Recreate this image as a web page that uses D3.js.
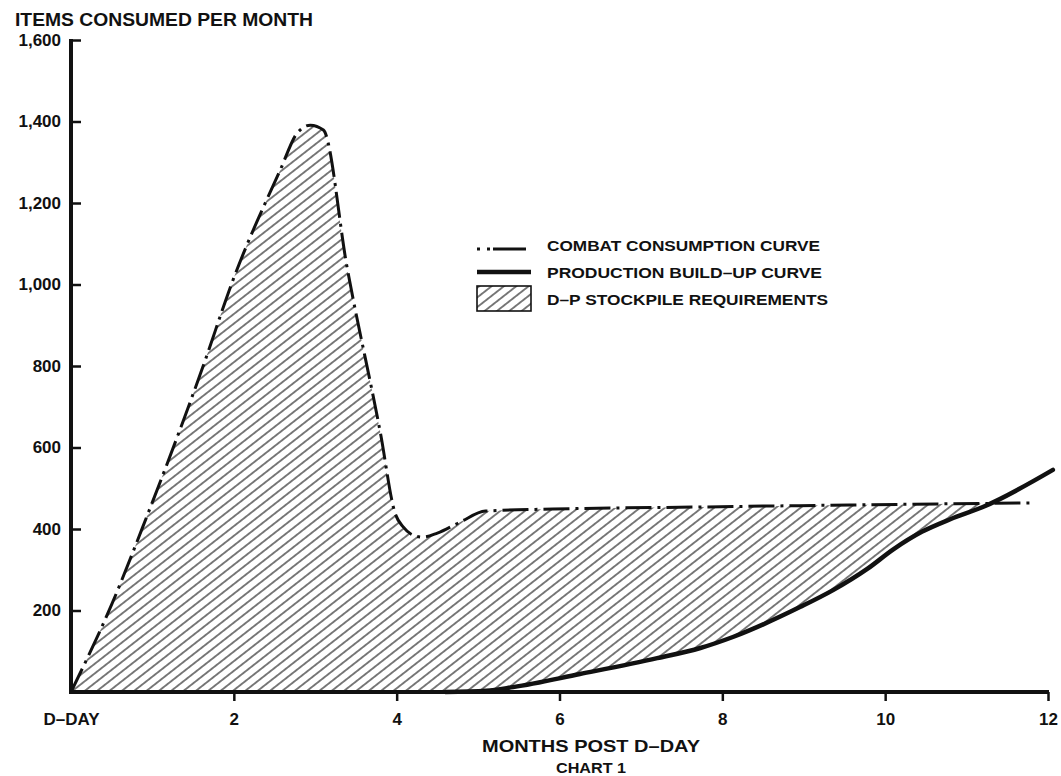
<!DOCTYPE html>
<html>
<head>
<meta charset="utf-8">
<script src="https://cdn.jsdelivr.net/npm/d3@7"></script>
<style>
  html, body { margin: 0; padding: 0; background: #fff; }
  svg { display: block; }
  text { font-family: "Liberation Sans", Arial, Helvetica, sans-serif; font-weight: bold; fill: #111; }
</style>
</head>
<body>
<svg id="chart" width="1061" height="776"></svg>
<script>
// ---- data ----
const combatMonths = [0, 0.5, 0.93, 1.62, 1.99, 2.57, 2.78, 2.94, 3.10, 3.39, 3.80, 3.98, 4.08, 4.20, 4.32, 4.50, 4.78, 5.09, 5.92, 7.73, 9.57, 11.82];
const combatValues = [0, 215, 430, 798, 1011, 1281, 1372, 1391, 1379, 1043, 636, 439, 405, 385, 380, 390, 417, 444, 449, 454, 459, 464];

const productionMonths = [4.6, 5.1, 5.43, 6.25, 7.2, 7.73, 8.13, 8.96, 9.36, 9.78, 10.1, 10.45, 10.8, 11.2, 12.06];
const productionValues = [0, 3, 12, 44, 83, 108, 135, 209, 250, 302, 350, 393, 424, 454, 545];

const yTickValues = [200, 400, 600, 800, 1000, 1200, 1400, 1600];
const xTickValues = [0, 2, 4, 6, 8, 10, 12];
const xTickLabels = ["D\u2013DAY", "2", "4", "6", "8", "10", "12"];

const legendLabels = ["COMBAT CONSUMPTION CURVE", "PRODUCTION BUILD\u2013UP CURVE", "D\u2013P STOCKPILE REQUIREMENTS"];
const titleText = "ITEMS CONSUMED PER MONTH";
const xTitleText = "MONTHS POST D\u2013DAY";
const captionText = "CHART 1";

// ---- drawing ----
const svg = d3.select("#chart");
const x = d3.scaleLinear().domain([0, 12]).range([71, 1048]);
const y = d3.scaleLinear().domain([0, 1600]).range([692, 40]);

const combat = combatMonths.map((m, i) => ({ m, v: combatValues[i] }));
const production = productionMonths.map((m, i) => ({ m, v: productionValues[i] }));

const defs = svg.append("defs");
// hatch pattern
const pat = defs.append("pattern")
  .attr("id", "hatch")
  .attr("patternUnits", "userSpaceOnUse")
  .attr("width", 20).attr("height", 7.6)
  .attr("patternTransform", "rotate(-38)");
pat.append("line")
  .attr("x1", 0).attr("x2", 20).attr("y1", 3.8).attr("y2", 3.8)
  .attr("stroke", "#111").attr("stroke-width", 1.1);

const areaUnder = d3.area()
  .x(d => x(d.m)).y0(y(0)).y1(d => y(d.v))
  .curve(d3.curveMonotoneX);
const lineGen = d3.line()
  .x(d => x(d.m)).y(d => y(d.v))
  .curve(d3.curveMonotoneX);

const mask = defs.append("mask").attr("id", "stockMask").attr("maskUnits", "userSpaceOnUse")
  .attr("x", 0).attr("y", 0).attr("width", 1061).attr("height", 776);
mask.append("path").attr("d", areaUnder(combat)).attr("fill", "white");
mask.append("path").attr("d", areaUnder(production)).attr("fill", "black")
  .attr("stroke", "black").attr("stroke-width", 2);

svg.append("rect")
  .attr("x", x(0)).attr("y", y(1600))
  .attr("width", x(12) - x(0)).attr("height", y(0) - y(1600))
  .attr("fill", "url(#hatch)")
  .attr("mask", "url(#stockMask)");

// combat consumption curve (dash-dot)
svg.append("path")
  .attr("d", lineGen(combat))
  .attr("fill", "none").attr("stroke", "#111")
  .attr("stroke-width", 3)
  .attr("stroke-dasharray", "26,6,3,6");

// production build-up curve
svg.append("path")
  .attr("d", lineGen(production))
  .attr("fill", "none").attr("stroke", "#111")
  .attr("stroke-width", 4.5)
  .attr("stroke-linecap", "round");

// y axis
const yAxis = svg.append("g")
  .attr("transform", `translate(${x(0)},0)`)
  .call(d3.axisLeft(y).tickValues(yTickValues).tickFormat(d3.format(","))
    .tickSizeInner(-10).tickSizeOuter(0).tickPadding(10));
yAxis.select(".domain").remove();
yAxis.selectAll(".tick line").attr("stroke", "#111").attr("stroke-width", 2.5);
yAxis.selectAll(".tick text").attr("font-size", 17).attr("font-family", null).attr("fill", "#111");
svg.append("line")
  .attr("x1", x(0)).attr("x2", x(0)).attr("y1", y(1600) - 1).attr("y2", y(0) + 2)
  .attr("stroke", "#111").attr("stroke-width", 4);

// x axis
const xAxis = svg.append("g")
  .attr("transform", `translate(0,${y(0)})`)
  .call(d3.axisBottom(x).tickValues(xTickValues).tickFormat((d, i) => xTickLabels[i])
    .tickSizeInner(9).tickSizeOuter(0).tickPadding(12));
xAxis.select(".domain").remove();
xAxis.selectAll(".tick line").attr("stroke", "#111").attr("stroke-width", 2.5)
  .filter(d => d === 0).remove();
xAxis.selectAll(".tick text").attr("font-size", 17).attr("font-family", null).attr("fill", "#111");
svg.append("line")
  .attr("x1", x(0) - 2).attr("x2", x(12) + 1).attr("y1", y(0)).attr("y2", y(0))
  .attr("stroke", "#111").attr("stroke-width", 4);

// titles
svg.append("text").attr("x", 15).attr("y", 26)
  .attr("font-size", 18).attr("textLength", 298).attr("lengthAdjust", "spacingAndGlyphs")
  .text(titleText);
svg.append("text").attr("x", 591).attr("y", 752).attr("text-anchor", "middle")
  .attr("font-size", 17).attr("textLength", 218).attr("lengthAdjust", "spacingAndGlyphs")
  .text(xTitleText);
svg.append("text").attr("x", 591).attr("y", 773).attr("text-anchor", "middle")
  .attr("font-size", 14).attr("textLength", 70).attr("lengthAdjust", "spacingAndGlyphs")
  .text(captionText);

// legend
const lg = svg.append("g");
const lx0 = 477, lx1 = 531, ltx = 547;
const rowY = [245, 272, 299];
lg.append("line").attr("x1", lx0).attr("x2", lx1).attr("y1", rowY[0] + 4).attr("y2", rowY[0] + 4)
  .attr("stroke", "#111").attr("stroke-width", 3).attr("stroke-dasharray", "3,7,3,3,33,7,3");
lg.append("line").attr("x1", lx0).attr("x2", lx1).attr("y1", rowY[1]).attr("y2", rowY[1])
  .attr("stroke", "#111").attr("stroke-width", 4.5);
lg.append("rect").attr("x", lx0).attr("y", rowY[2] - 13).attr("width", lx1 - lx0).attr("height", 25)
  .attr("fill", "url(#hatch)").attr("stroke", "#111").attr("stroke-width", 1.6);
const legendLens = [273, 275, 281];
lg.selectAll("text.leg").data(legendLabels).join("text")
  .attr("class", "leg")
  .attr("x", ltx).attr("y", (d, i) => rowY[i] + 5.5)
  .attr("font-size", 15)
  .attr("textLength", (d, i) => legendLens[i]).attr("lengthAdjust", "spacingAndGlyphs")
  .text(d => d);
</script>
</body>
</html>
